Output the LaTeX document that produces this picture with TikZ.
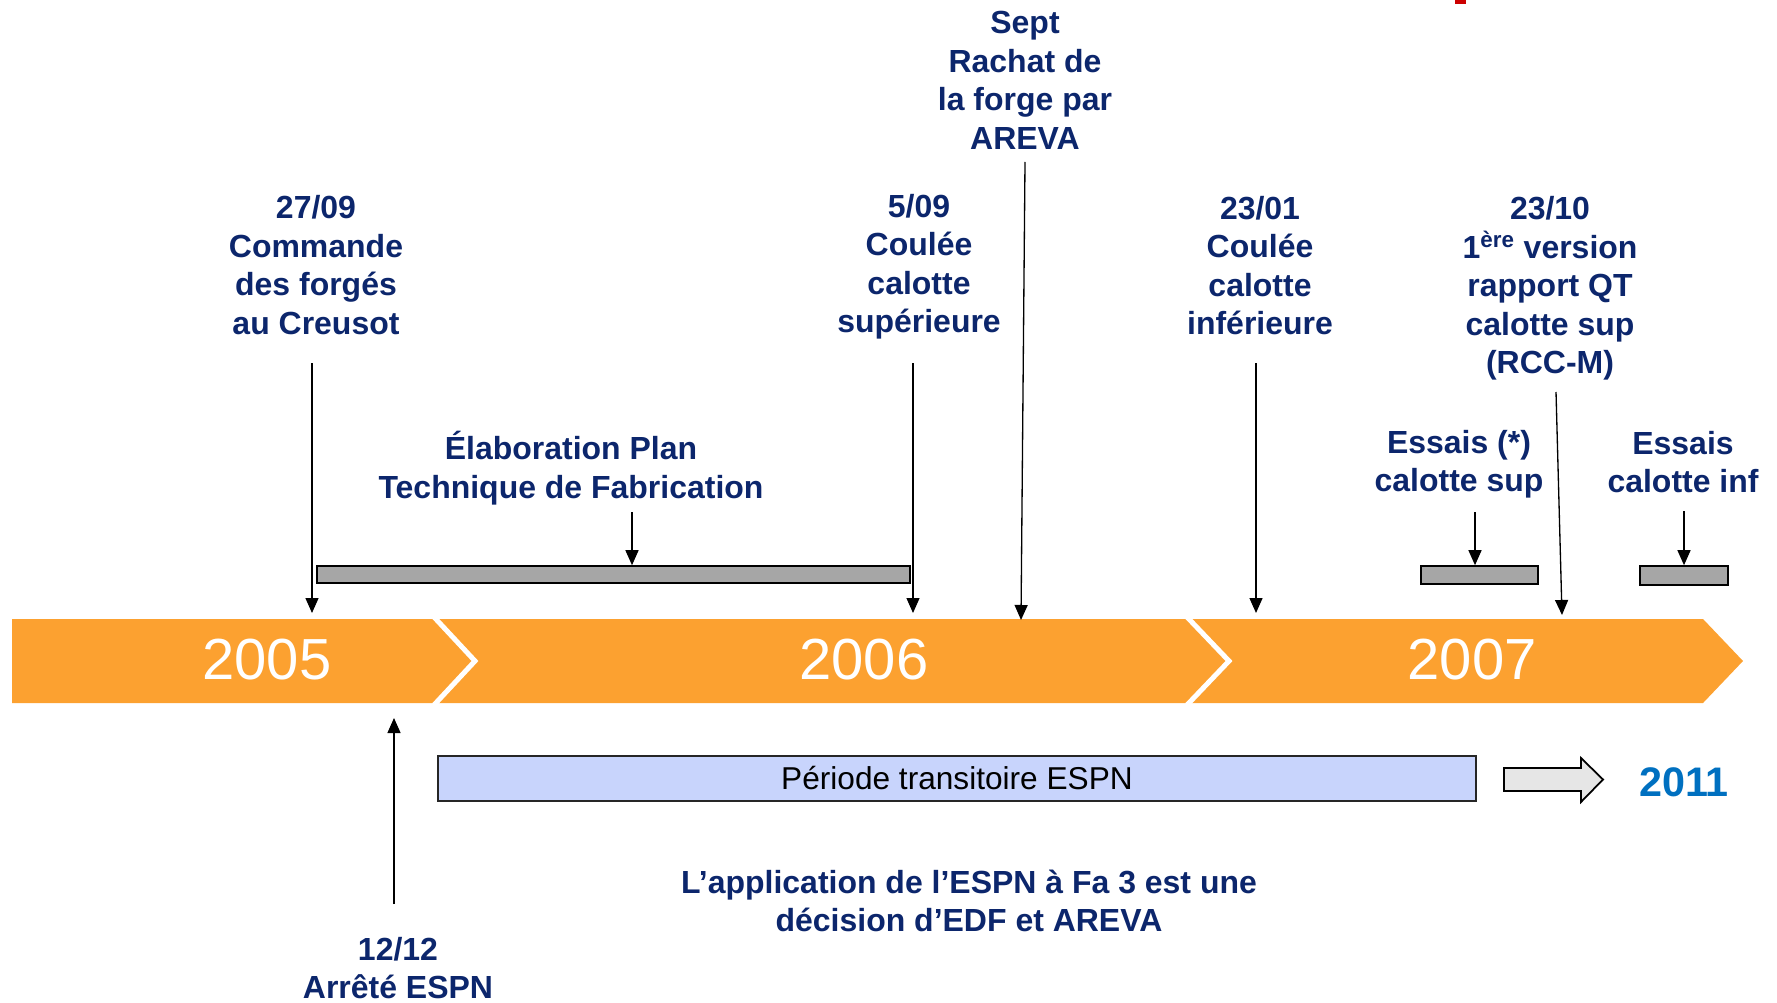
\documentclass[tikz,border=0pt]{standalone}
\usepackage{fontspec}
\setmainfont{Liberation Sans}
\usetikzlibrary{arrows.meta}
\definecolor{navy}{RGB}{12,38,108}
\definecolor{bandor}{RGB}{252,161,48}
\definecolor{yearblue}{RGB}{0,112,192}
\definecolor{boxblue}{RGB}{200,212,252}
\definecolor{bargray}{RGB}{166,166,166}
\definecolor{hollowgray}{RGB}{230,230,230}
\definecolor{markred}{RGB}{204,0,0}
\begin{document}
\begin{tikzpicture}[x=0.02cm,y=-0.02cm,
  lab/.style={font=\fontsize{18.2}{21.9}\selectfont\bfseries, text=navy, align=center, inner sep=0pt},
  arr/.style={-{Triangle[width=2.6mm,length=3mm]}, line width=0.75pt, draw=black},
  barbox/.style={draw=black, line width=0.9pt, fill=bargray, inner sep=0pt},
  yearlab/.style={text=white, font=\fontsize{33}{40}\selectfont, inner sep=0pt},
  gap/.style={draw=white, line width=0.1cm, line join=miter},
]
\useasboundingbox (0,0) rectangle (1777,1003);

% red mark at top
\fill[markred] (1455,0) rectangle (1466,4);

% orange band
\fill[bandor] (12,619) -- (1703,619) -- (1743,661) -- (1703,703) -- (12,703) -- cycle;
\draw[gap] (434,617) -- (475,661) -- (434,705);
\draw[gap] (1187,617) -- (1229,661) -- (1187,705);
\node[yearlab] (y2005) at (267,660) {2005};
\node[yearlab] (y2006) at (864,660) {2006};
\node[yearlab] (y2007) at (1472,660) {2007};

% labels
\node[lab] (l1) at (316,265) {27/09\\Commande\\des forgés\\au Creusot};
\node[lab] (l2) at (919,266.5) {5/09\\Coulée\\calotte\\supérieure};
\node[lab] (l3) at (1025,80.5) {Sept\\Rachat de\\la forge par\\AREVA};
\node[lab] (l4) at (1260,265.5) {23/01\\Coulée\\calotte\\inférieure};
\node[lab] (l5) at (1550,288.5) {23/10\\1\textsuperscript{ère} version\\rapport QT\\calotte sup\\(RCC-M)};
\node[lab] (l6) at (571,468) {Élaboration Plan\\Technique de Fabrication};
\node[lab] (l7) at (1459,464) {Essais (*)\\calotte sup};
\node[lab] (l8) at (1683,462) {Essais\\calotte inf};
\node[lab] (l9) at (398,968) {12/12\\Arrêté ESPN};
\node[lab] (l10) at (969,901) {L’application de l’ESPN à Fa 3 est une\\décision d’EDF et AREVA};

% bars
\node[barbox, minimum width=593*0.02cm, minimum height=17*0.02cm] (bar1) at (613.5,574.5) {};
\node[barbox, minimum width=117*0.02cm, minimum height=18*0.02cm] (bar2) at (1479.5,575) {};
\node[barbox, minimum width=88*0.02cm, minimum height=19*0.02cm] (bar3) at (1684,575.5) {};

% arrow coordinates
\coordinate (s1) at (312,363); \coordinate (e1) at (312,613);
\coordinate (s2) at (913,363); \coordinate (e2) at (913,613);
\coordinate (s3) at (1025,162); \coordinate (e3) at (1021,620);
\coordinate (s4) at (1256,363); \coordinate (e4) at (1256,613);
\coordinate (s5) at (1556,392); \coordinate (e5) at (1562,615);
\coordinate (s6) at (632,512);
\coordinate (s7) at (1475,512);
\coordinate (s8) at (1684,511);
\coordinate (s9) at (394,904); \coordinate (e9) at (394,718);

\draw[arr] (s1) -- (e1);
\draw[arr] (s2) -- (e2);
\draw[arr] (s3) -- (e3);
\draw[arr] (s4) -- (e4);
\draw[arr] (s5) -- (e5);
\draw[arr] (s6) -- (s6 |- bar1.north);
\draw[arr] (s7) -- (s7 |- bar2.north);
\draw[arr] (s8) -- (s8 |- bar3.north);
\draw[arr] (s9) -- (e9);

% transitional period box
\node[draw=black!85, line width=1.2pt, fill=boxblue, minimum width=1038*0.02cm, minimum height=45*0.02cm, inner sep=0pt, font=\fontsize{18}{22}\selectfont] (period) at (957,778.5) {Période transitoire ESPN};

% hollow arrow
\draw[fill=hollowgray, draw=black, line width=1pt, line join=miter] (1504,768) -- (1581,768) -- (1581,758) -- (1603,779.5) -- (1581,802) -- (1581,791) -- (1504,791) -- cycle;
\node[text=yearblue, font=\fontsize{23.5}{28}\selectfont\bfseries, inner sep=0pt] (y2011) at (1684,782) {2011};
\end{tikzpicture}
\end{document}
